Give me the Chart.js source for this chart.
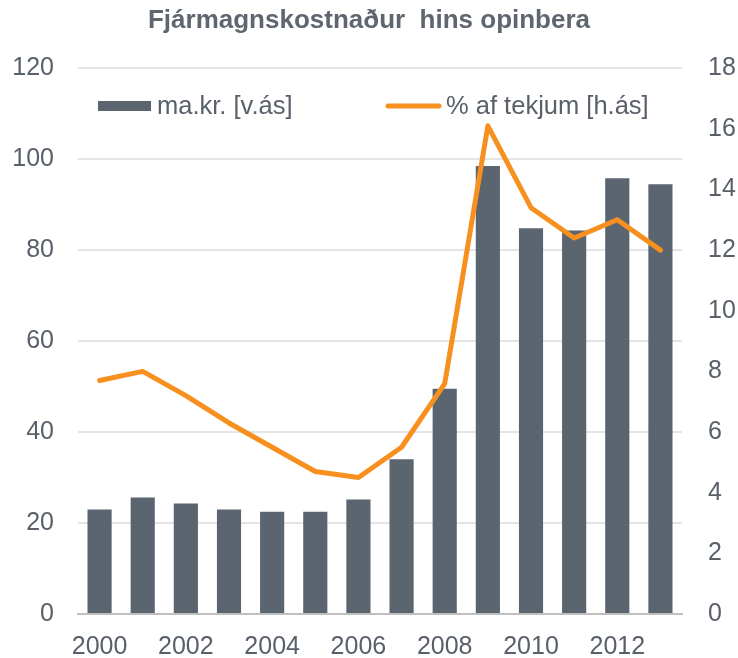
<!DOCTYPE html>
<html>
<head>
<meta charset="utf-8">
<script src="https://cdn.jsdelivr.net/npm/chart.js@4/dist/chart.umd.min.js"></script>
<style>
  html, body { margin: 0; padding: 0; background: #fff; }
  #wrap { width: 738px; height: 658px; }
</style>
</head>
<body>
<div id="wrap"><canvas id="chart" width="738" height="658"></canvas></div>
<script>
// data
const years = ['2000','2001','2002','2003','2004','2005','2006','2007','2008','2009','2010','2011','2012','2013'];
const makr = [23.0, 25.6, 24.3, 23.0, 22.5, 22.5, 25.2, 34.0, 49.5, 98.5, 84.8, 84.3, 95.8, 94.5];
const pctTekjur = [7.7, 8.0, 7.2, 6.3, 5.5, 4.7, 4.5, 5.5, 7.6, 16.1, 13.4, 12.4, 13.0, 12.0];
const barLabel = 'ma.kr. [v.ás]';
const lineLabel = '% af tekjum [h.ás]';

const grey = '#5b6570';
const orange = '#f7901e';
const textCol = '#596069';
const fontFam = '"Liberation Sans", Arial, sans-serif';

// legend sits inside the plot area in the original
const innerLegend = {
    id: 'innerLegend',
    afterDraw(chart) {
        const ctx = chart.ctx;
        ctx.save();
        ctx.font = '25.5px ' + fontFam;
        ctx.textBaseline = 'middle';
        ctx.fillStyle = grey;
        ctx.fillRect(98, 101, 53, 10);
        ctx.fillStyle = textCol;
        ctx.fillText(barLabel, 157, 107);
        ctx.strokeStyle = orange;
        ctx.lineWidth = 5;
        ctx.lineCap = 'round';
        ctx.beginPath();
        ctx.moveTo(388, 106);
        ctx.lineTo(439, 106);
        ctx.stroke();
        ctx.fillText(lineLabel, 446, 107);
        ctx.restore();
    }
};

new Chart(document.getElementById('chart'), {
    type: 'bar',
    data: {
        labels: years,
        datasets: [{
            type: 'line',
            label: lineLabel,
            data: pctTekjur,
            yAxisID: 'y1',
            borderColor: orange,
            backgroundColor: orange,
            borderWidth: 5,
            pointRadius: 0,
            tension: 0,
            borderJoinStyle: 'round',
            borderCapStyle: 'round',
            order: 0
        }, {
            label: barLabel,
            data: makr,
            yAxisID: 'y',
            backgroundColor: grey,
            categoryPercentage: 1,
            barPercentage: 0.56,
            order: 1
        }]
    },
    options: {
        responsive: false,
        animation: false,
        layout: { padding: 0 },
        plugins: {
            legend: { display: false },
            tooltip: { enabled: false },
            title: {
                display: true,
                text: 'Fjármagnskostnaður  hins opinbera',
                color: '#5f6670',
                font: { family: fontFam, size: 26, weight: 'bold' },
                padding: { top: 5, bottom: 32 }
            }
        },
        scales: {
            x: {
                afterFit: s => { s.height = 44; },
                grid: { display: false, drawTicks: false },
                border: { display: true, color: '#bfbfbf', width: 2 },
                ticks: {
                    color: textCol,
                    font: { family: fontFam, size: 25 },
                    autoSkip: false,
                    maxRotation: 0,
                    padding: 18,
                    callback: (v, i) => (i % 2 === 0 ? years[i] : '')
                }
            },
            y: {
                position: 'left',
                min: 0,
                max: 120,
                afterFit: s => { s.width = 78; },
                grid: { color: '#e4e4e4', lineWidth: 2, drawTicks: false },
                border: { display: false },
                ticks: {
                    stepSize: 20,
                    color: textCol,
                    padding: 24,
                    font: { family: fontFam, size: 25 }
                }
            },
            y1: {
                position: 'right',
                min: 0,
                max: 18,
                afterFit: s => { s.width = 56; },
                grid: { drawOnChartArea: false, drawTicks: false },
                border: { display: false },
                ticks: {
                    stepSize: 2,
                    color: textCol,
                    padding: 26,
                    font: { family: fontFam, size: 25 }
                }
            }
        }
    },
    plugins: [innerLegend]
});
</script>
</body>
</html>
